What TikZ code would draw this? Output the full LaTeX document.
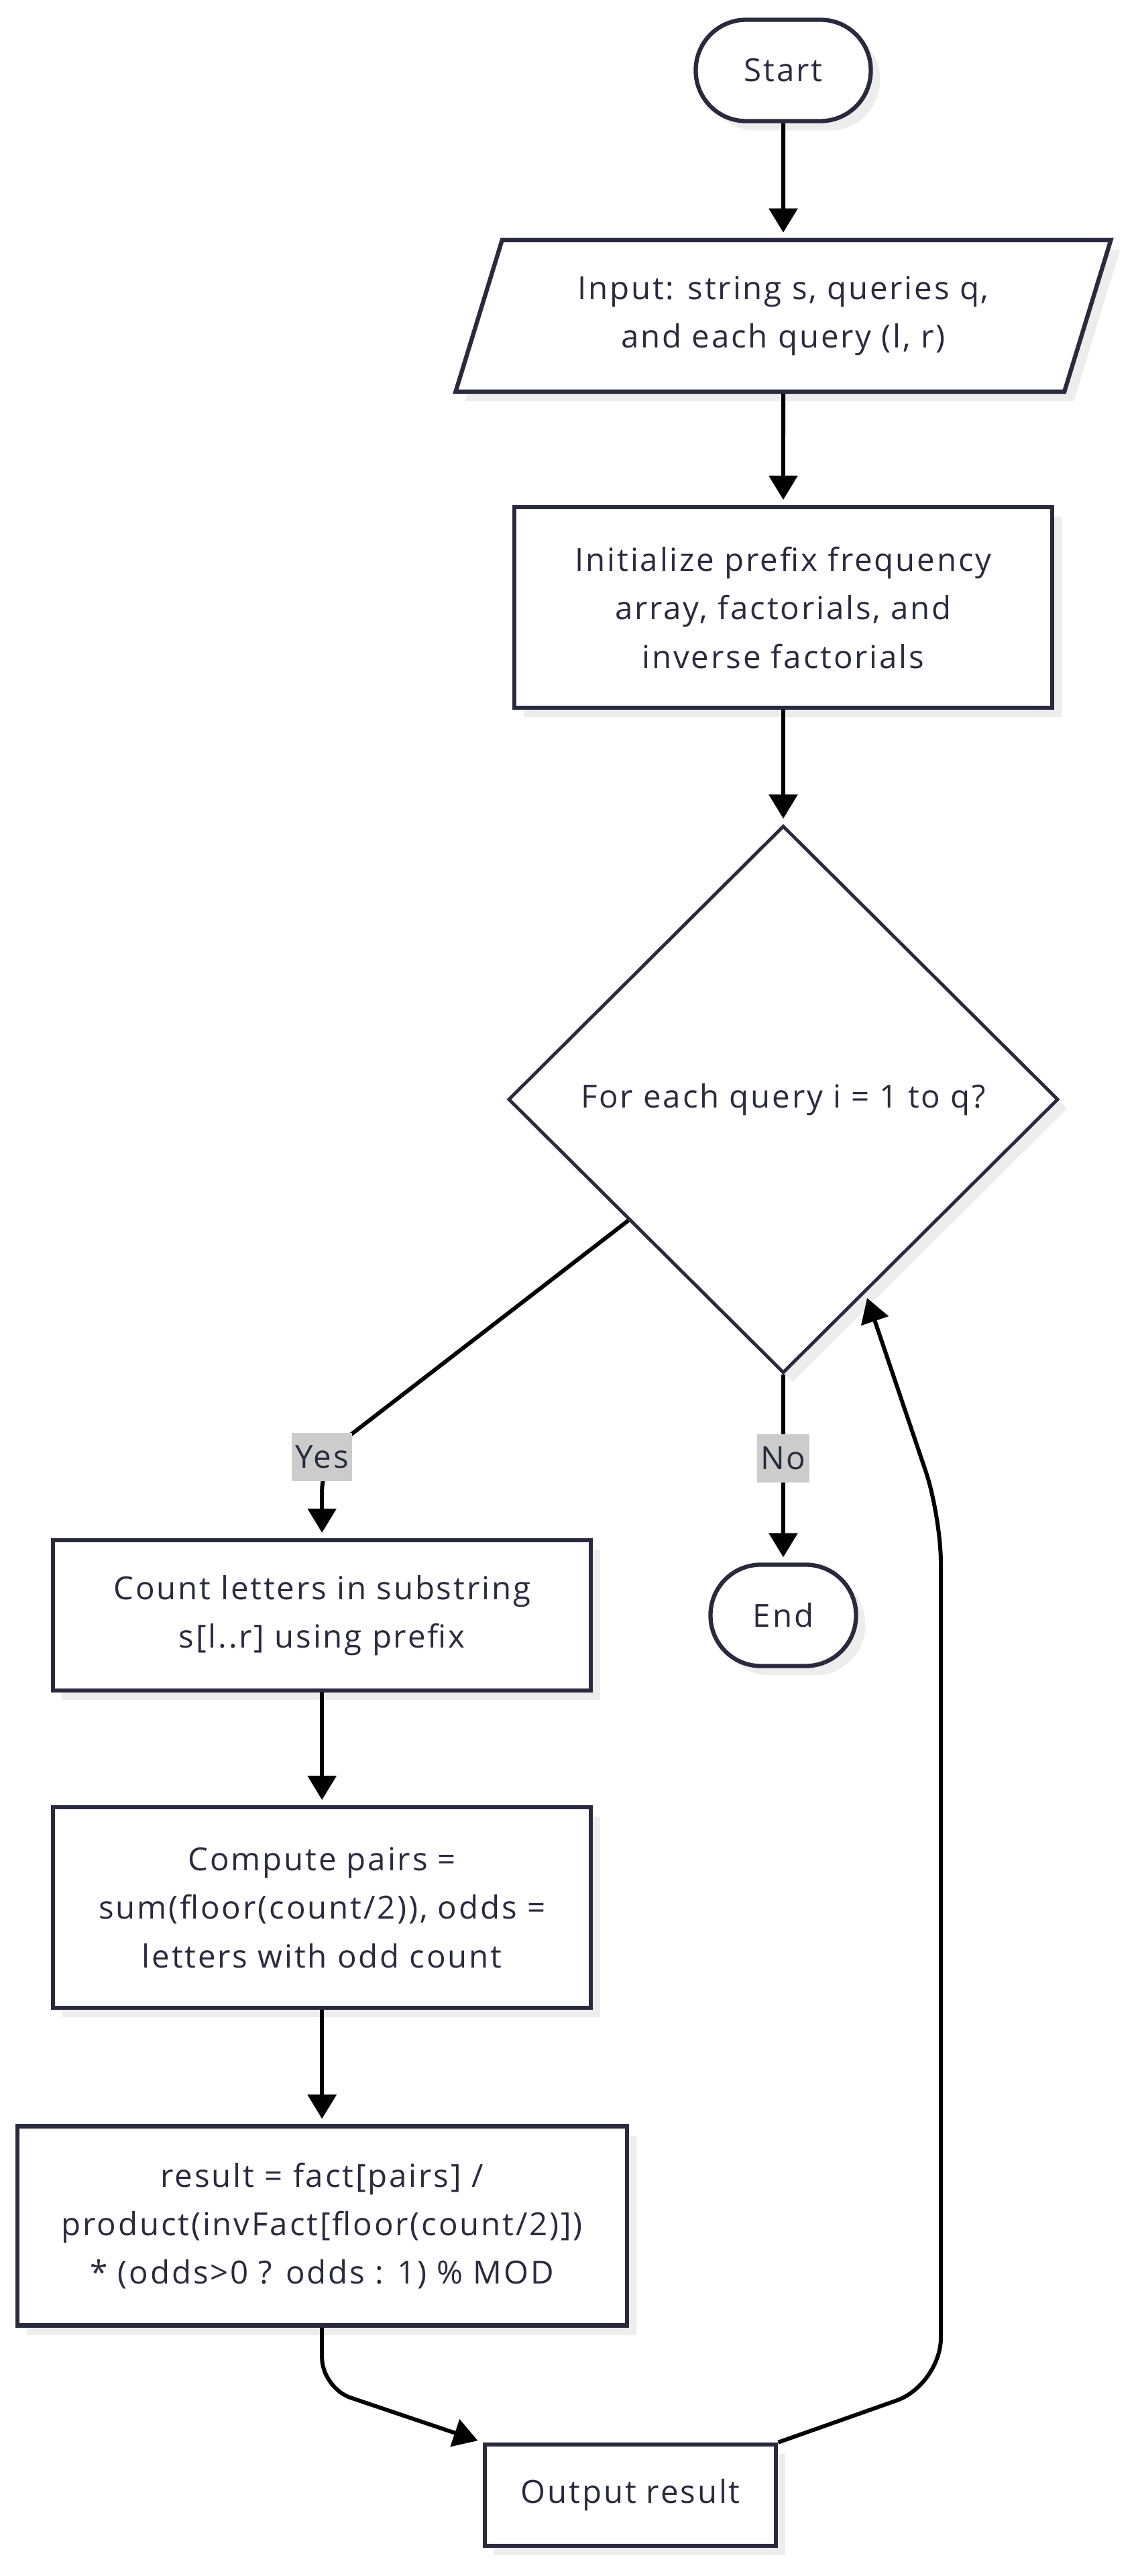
\documentclass[tikz,border=0pt]{standalone}
\usepackage{fontspec}
\setmainfont{Open Sans}[LetterSpace=6.0]
\usetikzlibrary{calc, positioning, shapes.geometric, arrows.meta, shadows}
\definecolor{ink}{HTML}{2A2A3F}

\begin{document}
\begin{tikzpicture}[base/.style={draw=ink, line width=1.8pt, fill=white, text=ink, align=center, font=\fontsize{13.5}{20.6}\selectfont, drop shadow={shadow xshift=0.14cm, shadow yshift=-0.14cm, fill=black!7, opacity=1}},
    terminal/.style={base, rectangle, rounded corners=0.75cm, minimum height=1.51cm},
    process/.style={base, rectangle, minimum width=8.02cm},
    io/.style={base, trapezium, trapezium left angle=64, trapezium right angle=116, trapezium stretches body, minimum width=9.77cm, minimum height=2.26cm},
    decision/.style={base, diamond, line width=1.4pt, minimum width=8.2cm, minimum height=8.16cm, inner sep=0pt},
    branch/.style={fill=black!20, text=ink, font=\fontsize{13.5}{15.6}\selectfont, inner xsep=1.5pt, minimum height=0.72cm},
    flow/.style={draw=black, line width=1.7pt, -{Triangle[length=0.36cm, width=0.42cm]}, shorten >=0.08cm},
    node distance=1.7cm]
    \useasboundingbox (0,0) rectangle (16.93,-38.40);
    \node (start) [terminal, minimum width=2.61cm] at (11.68,-1.05) {Start};
    \node (input) [io, below=1.71cm of start] {Input: string s, queries q,\\ and each query (l, r)};
    \node (init) [process, minimum height=2.99cm, below=1.66cm of input] {Initialize prefix frequency\\ array, factorials, and\\ inverse factorials};
    \node (query test) [decision, below=1.70cm of init] {For each query i = 1 to q?};
    \node (end) [terminal, minimum width=2.17cm, below=2.80cm of query test] {End};
    \node (count) [process, minimum height=2.24cm, left=1.72cm of end] {Count letters in substring\\ s[l..r] using prefix};
    \node (compute) [process, minimum height=2.99cm, below=1.68cm of count] {Compute pairs =\\ sum(floor(count/2)), odds =\\ letters with odd count};
    \node (result) [process, minimum width=9.09cm, minimum height=2.97cm, below=1.70cm of compute] {result = fact[pairs] /\\ product(invFact[floor(count/2)])\\ * (odds>0 ? odds : 1) \% MOD};
    \node (output) [process, minimum width=4.34cm, minimum height=1.51cm, below=1.71cm of result, xshift=4.6cm] {Output result};
    \coordinate (yes bend) at ($(count.north)+(0,1.21)$);
    \coordinate (loop foot) at (14.03,-35.55);
    \coordinate (loop head) at (14.03,-22.6);
    \draw[flow] (start) -- (input);
    \draw[flow] (input) -- (init);
    \draw[flow] (init) -- (query test);
    \draw[flow, rounded corners=0.5cm] (query test.218) -- (yes bend) -- (count);
    \draw[flow] (query test) -- (end);
    \draw[flow] (count) -- (compute);
    \draw[flow] (compute) -- (result);
    \draw[flow, rounded corners=0.45cm] (result) -- ($(result.south)+(0,-0.9)$) -- (output.north west);
    \draw[flow, rounded corners=0.7cm] (output.north east) -- (loop foot) -- (loop head) -- (query test.-67);
    \node (yes) [branch] at (yes bend) {Yes};
    \node (no) [branch] at ($(query test.south)!0.445!(end.north)$) {No};
\end{tikzpicture}
\end{document}
